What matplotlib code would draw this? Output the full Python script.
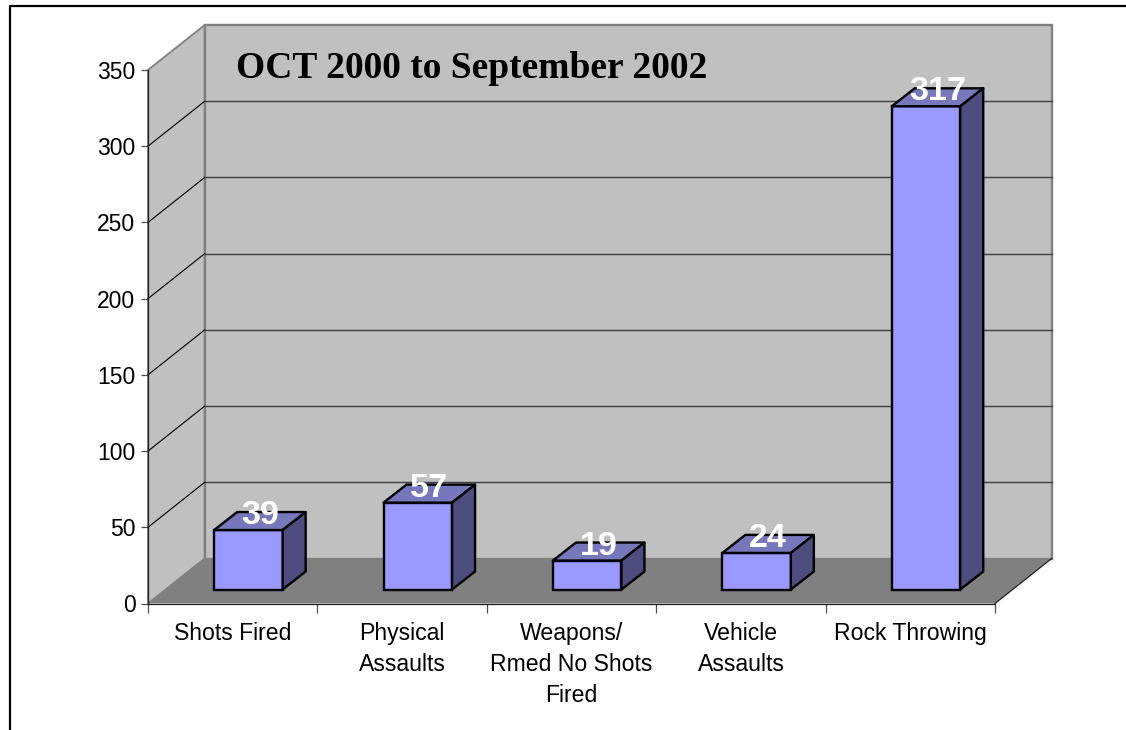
import matplotlib
matplotlib.use('Agg')
import matplotlib.pyplot as plt
from matplotlib.lines import Line2D
import numpy as np

categories = ['Shots Fired', 'Physical\nAssaults', 'Weapons/\nRmed No Shots\nFired',
              'Vehicle\nAssaults', 'Rock Throwing']
values = [39, 57, 19, 24, 317]
y_ticks = [0, 50, 100, 150, 200, 250, 300, 350]
title_text = 'OCT 2000 to September 2002'

W, H = 1126, 730
fig = plt.figure(figsize=(W / 100, H / 100), dpi=100)
plt.rcParams['font.family'] = ['Liberation Sans', 'DejaVu Sans']

# передняя плоскость графика в пикселях
left, right, bottom, top = 148, 995, 603.5, 70
ax = fig.add_axes([left / W, 1 - bottom / H, (right - left) / W, (bottom - top) / H])
ax.set_xlim(0, 5)
ax.set_ylim(0, 350)
ax.patch.set_visible(False)

# пересчёт пикселей в единицы осей
px = 5 / (right - left)
py = 350 / (bottom - top)
depth_x, depth_y = 56.7 * px, 45 * py       # глубина всего "ящика"
bar_dx, bar_dy = 23 * px, 18 * py           # глубина столбика
off_x, off_y = 15.7 * px, 14 * py           # сдвиг столбика от передней кромки
bar_w = 68.5 * px

wall = '#c0c0c0'
edge = '#808080'

# стены и пол
ax.fill([0, depth_x, depth_x, 0], [0, depth_y, 350 + depth_y, 350],
        fc=wall, ec=edge, lw=1.3, clip_on=False, zorder=1)
ax.fill([depth_x, 5 + depth_x, 5 + depth_x, depth_x], [depth_y, depth_y, 350 + depth_y, 350 + depth_y],
        fc=wall, ec=edge, lw=1.7, clip_on=False, zorder=1)
ax.fill([0, 5, 5 + depth_x, depth_x], [0, 0, depth_y, depth_y],
        fc='#808080', ec='none', clip_on=False, zorder=2)
ax.plot([5, 5 + depth_x], [0, depth_y], color='#202020', lw=0.9, clip_on=False, zorder=3)

# линии сетки
for t in y_ticks[1:-1]:
    ax.plot([0, depth_x], [t, t + depth_y], color='black', lw=0.8, clip_on=False, zorder=2)
    ax.plot([depth_x, 5 + depth_x], [t + depth_y, t + depth_y], color='#404040', lw=1.0,
            clip_on=False, zorder=2)

# столбики
pos = np.arange(len(values)) + 0.5 + off_x
ax.bar(pos, values, width=bar_w, bottom=off_y, color='#9999ff', edgecolor='black', lw=1.7,
       clip_on=False, zorder=5)
for x, v in zip(pos, values):
    x0, x1 = x - bar_w / 2, x + bar_w / 2
    y0, y1 = off_y, off_y + v
    ax.fill([x0, x1, x1 + bar_dx, x0 + bar_dx], [y1, y1, y1 + bar_dy, y1 + bar_dy],
            fc='#7777bb', ec='black', lw=1.7, joinstyle='round', clip_on=False, zorder=5)
    ax.fill([x1, x1 + bar_dx, x1 + bar_dx, x1], [y0, y0 + bar_dy, y1 + bar_dy, y1],
            fc='#4d4d80', ec='black', lw=1.7, joinstyle='round', clip_on=False, zorder=5)
    ax.text(x + bar_dx / 2, y1 + 14.5 * py, str(v), color='white', fontsize=24.5, fontweight='bold',
            ha='center', va='center', clip_on=False, zorder=6)

# оси
for s in ['top', 'right']:
    ax.spines[s].set_visible(False)
ax.spines['left'].set_color('#202020')
ax.spines['bottom'].set_color('#202020')
ax.spines['left'].set_linewidth(0.9)
ax.spines['bottom'].set_linewidth(0.9)
ax.spines['left'].set_zorder(3)
ax.spines['bottom'].set_zorder(3)

ax.set_yticks(y_ticks)
ax.tick_params(axis='y', length=5, width=0.9, color='#505050', labelsize=16.5, pad=4)
ax.set_xticks(np.arange(6))
ax.set_xticklabels([])
ax.tick_params(axis='x', which='major', length=6.5, width=0.9, color='#505050')
ax.set_xticks(np.arange(5) + 0.5, minor=True)
ax.set_xticklabels(categories, minor=True, fontsize=16.6, linespacing=1.46, ha='center')
ax.tick_params(axis='x', which='minor', length=0, pad=13)

fig.text(236 / W, 1 - 68 / H, title_text, family=['Liberation Serif', 'DejaVu Serif'],
         fontsize=27, fontweight='bold', ha='left', va='center', color='black')

# рамка
fig.add_artist(Line2D([9.5 / W, 9.5 / W, 1], [0, 1 - 5.5 / H, 1 - 5.5 / H], color='black', lw=1.6))

fig.savefig('out.png', dpi=100)
